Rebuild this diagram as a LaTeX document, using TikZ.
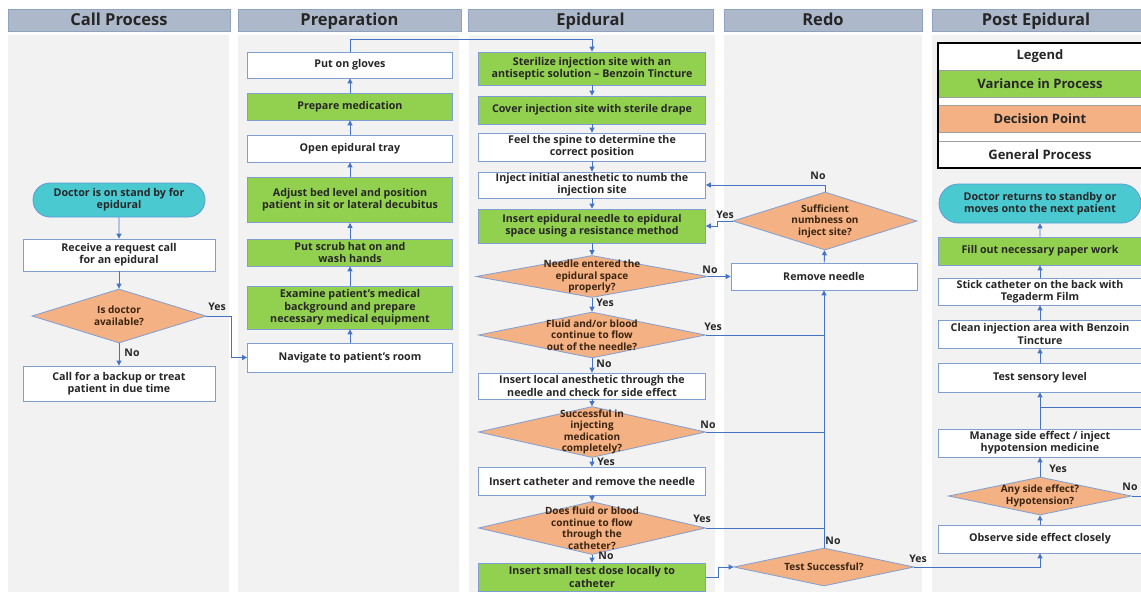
\documentclass[tikz,border=0pt]{standalone}
\usepackage{fontspec}
\setmainfont{Open Sans}
\usetikzlibrary{shapes.geometric,shapes.misc,arrows.meta}
\definecolor{headfill}{HTML}{ADB9CA}
\definecolor{headdraw}{HTML}{8FA3BF}
\definecolor{lanefill}{HTML}{F2F2F2}
\definecolor{bordc}{HTML}{7F9FD3}
\definecolor{arrc}{HTML}{4472C4}
\definecolor{vgreen}{HTML}{92D050}
\definecolor{dor}{HTML}{F4B183}
\definecolor{cyanf}{HTML}{4BC9D1}
\definecolor{cyand}{HTML}{5B9BD5}
\definecolor{txt}{HTML}{262626}
\definecolor{dtxt}{HTML}{3A2410}
\definecolor{sepc}{HTML}{A0A0A0}
\begin{document}
\begin{tikzpicture}[x=1pt,y=-1pt,
  lanehead/.style={draw=headdraw,fill=headfill,line width=0.8pt},
  lanebody/.style={fill=lanefill,draw=none},
  headtxt/.style={font=\bfseries\fontsize{16.5}{18}\selectfont,text=txt,inner sep=0pt,anchor=base},
  gbox/.style={draw=bordc,fill=white,line width=0.8pt,align=center,text=txt,
    font=\bfseries\fontsize{10.7}{12.3}\selectfont,inner sep=1pt},
  vbox/.style={gbox,fill=vgreen,text=black!85},
  tbox/.style={rounded rectangle,draw=cyand,fill=cyanf,line width=0.8pt,align=center,text=black!85,
    font=\bfseries\fontsize{10.7}{12.3}\selectfont,inner sep=1pt},
  dbox/.style={diamond,draw=bordc,fill=dor,line width=0.8pt,inner sep=0pt},
  dlab/.style={align=center,text=dtxt,font=\bfseries\fontsize{10}{11.5}\selectfont},
  wC/.style={minimum width=192pt},
  wP/.style={minimum width=205pt},
  wE/.style={minimum width=227pt},
  wR/.style={minimum width=186pt},
  wQ/.style={minimum width=204pt},
  arr/.style={draw=arrc,line width=0.9pt,-{Triangle[length=5pt,width=5pt]}},
  plain/.style={draw=arrc,line width=0.9pt},
  lbl/.style={font=\bfseries\fontsize{10.5}{12}\selectfont,text=txt,inner sep=0pt},
  legtxt/.style={font=\bfseries\fontsize{13}{15}\selectfont,text=txt}
]
\useasboundingbox (0,0) rectangle (1141,592);
% lanes
\fill[lanebody] (8,35) rectangle (229,592);
\fill[lanebody] (238,35) rectangle (459,592);
\fill[lanebody] (469,35) rectangle (715,592);
\fill[lanebody] (724,35) rectangle (922,592);
\fill[lanebody] (932,35) rectangle (1145,592);
\draw[lanehead] (8,9) rectangle (230,31);
\draw[lanehead] (238,9) rectangle (461,31);
\draw[lanehead] (468,9) rectangle (713,31);
\draw[lanehead] (724,9) rectangle (922,31);
\draw[lanehead] (932,9) rectangle (1146,31);
\node[headtxt] (h1) at (119,25.5) {Call Process};
\node[headtxt] (h2) at (349.5,25.5) {Preparation};
\node[headtxt] (h3) at (590.5,25.5) {Epidural};
\node[headtxt] (h4) at (823,25.5) {Redo};
\node[headtxt] (h5) at (1036,25.5) {Post Epidural};

% Call process
\node[tbox,minimum width=174pt,minimum height=34pt] (t1) at (119,200) {Doctor is on stand by for\\epidural};
\node[gbox,wC,minimum height=32pt] (c1) at (119,255) {Receive a request call\\for an epidural};
\node[dbox,minimum width=174pt,minimum height=54pt,label={[dlab]center:{Is doctor\\available?}}] (c2) at (119,316) {};
\node[gbox,wC,minimum height=35pt] (c3) at (119,383.5) {Call for a backup or treat\\patient in due time};

% Preparation
\node[gbox,wP,minimum height=26pt] (p7) at (350,65) {Put on gloves};
\node[vbox,wP,minimum height=27pt] (p6) at (350,106.5) {Prepare medication};
\node[gbox,wP,minimum height=27pt] (p5) at (350,148.5) {Open epidural tray};
\node[vbox,wP,minimum height=45pt] (p4) at (350,200) {Adjust bed level and position\\patient in sit or lateral decubitus};
\node[vbox,wP,minimum height=27pt] (p3) at (350,252.5) {Put scrub hat on and\\wash hands};
\node[vbox,wP,minimum height=43pt] (p2) at (350,307.5) {Examine patient’s medical\\background and prepare\\necessary medical equipment};
\node[gbox,wP,minimum height=29pt] (p1) at (350,357.5) {Navigate to patient’s room};

% Epidural
\node[vbox,wE,minimum height=33pt] (e1) at (592,68.5) {Sterilize injection site with an\\antiseptic solution -- Benzoin Tincture};
\node[vbox,wE,minimum height=28pt] (e2) at (592,110) {Cover injection site with sterile drape};
\node[gbox,wE,minimum height=28pt] (e3) at (592,147) {Feel the spine to determine the\\correct position};
\node[gbox,wE,minimum height=26pt] (e4) at (592,185) {Inject initial anesthetic to numb the\\injection site};
\node[vbox,wE,minimum height=34pt] (e5) at (592,226) {Insert epidural needle to epidural\\space using a resistance method};
\node[dbox,minimum width=232pt,minimum height=42pt,label={[dlab]center:{Needle entered the\\epidural space\\properly?}}] (d1) at (592,276.5) {};
\node[dbox,minimum width=227pt,minimum height=46pt,label={[dlab]center:{Fluid and/or blood\\continue to flow\\out of the needle?}}] (d2) at (592,335) {};
\node[gbox,wE,minimum height=26pt] (e6) at (592,386) {Insert local anesthetic through the\\needle and check for side effect};
\node[dbox,minimum width=227pt,minimum height=51pt,label={[dlab]center:{Successful in\\injecting\\medication\\completely?}}] (d3) at (592,432) {};
\node[gbox,wE,minimum height=28pt] (e7) at (592,481) {Insert catheter and remove the needle};
\node[dbox,minimum width=227pt,minimum height=53pt,label={[dlab]center:{Does fluid or blood\\continue to flow\\through the\\catheter?}}] (d4) at (592,528) {};
\node[vbox,wE,minimum height=28pt] (e8) at (592,577) {Insert small test dose locally to\\catheter};

% Redo
\node[dbox,minimum width=184pt,minimum height=58pt,label={[dlab]center:{Sufficient\\numbness on\\inject site?}}] (r1) at (825,221) {};
\node[gbox,wR,minimum height=27pt] (r2) at (824,276.5) {Remove needle};
\node[dbox,minimum width=180pt,minimum height=38pt,label={[dlab]center:{Test Successful?}}] (r3) at (824,567) {};

% Post epidural: legend
\fill[white] (938,43) rectangle (1143,168);
\fill[vgreen] (938,70) rectangle (1143,97);
\fill[dor] (938,105) rectangle (1143,132);
\draw[sepc,line width=0.8pt] (938,70) -- (1143,70) (938,97) -- (1143,97) (938,105) -- (1143,105) (938,132) -- (1143,132) (938,141) -- (1143,141);
\draw[black,line width=2pt] (938,43) rectangle (1143,168);
\node[legtxt] (lg0) at (1040,56.5) {Legend};
\node[legtxt] (lg1) at (1040,83.5) {Variance in Process};
\node[legtxt] (lg2) at (1040,118.5) {Decision Point};
\node[legtxt] (lg3) at (1040,154.5) {General Process};

% Post epidural flow
\node[tbox,wQ,minimum height=39pt] (q8) at (1040,203.5) {Doctor returns to standby or\\moves onto the next patient};
\node[vbox,wQ,minimum height=28pt] (q7) at (1040,251) {Fill out necessary paper work};
\node[gbox,wQ,minimum height=27pt] (q6) at (1040,291.5) {Stick catheter on the back with\\Tegaderm Film};
\node[gbox,wQ,minimum height=28pt] (q5) at (1040,334) {Clean injection area with Benzoin\\Tincture};
\node[gbox,wQ,minimum height=29pt] (q4) at (1040,377.5) {Test sensory level};
\node[gbox,wQ,minimum height=28pt] (q3) at (1040,443) {Manage side effect / inject\\hypotension medicine};
\node[dbox,minimum width=183pt,minimum height=38pt,label={[dlab]center:{Any side effect?\\Hypotension?}}] (q2) at (1040,496) {};
\node[gbox,wQ,minimum height=28pt] (q1) at (1040,539) {Observe side effect closely};
\coordinate (qj) at (1040,407);

% connectors: call
\draw[arr] (t1) -- (c1);
\draw[arr] (c1) -- (c2);
\draw[arr] (c2) -- (c3);
\draw[arr] (c2.east) -- ++(25,0) |- (p1.west);
% preparation
\draw[arr] (p1) -- (p2);
\draw[arr] (p2) -- (p3);
\draw[arr] (p3) -- (p4);
\draw[arr] (p4) -- (p5);
\draw[arr] (p5) -- (p6);
\draw[arr] (p6) -- (p7);
\draw[arr] (p7.north) -- ++(0,-12) -| (e1.north);
% epidural
\draw[arr] (e1) -- (e2);
\draw[arr] (e2) -- (e3);
\draw[arr] (e3) -- (e4);
\draw[arr] (e4) -- (e5);
\draw[arr] (e5) -- (d1);
\draw[arr] (d1) -- (d2);
\draw[arr] (d2) -- (e6);
\draw[arr] (e6) -- (d3);
\draw[arr] (d3) -- (e7);
\draw[arr] (e7) -- (d4);
\draw[arr] (d4) -- (e8);
% redo
\draw[arr] (d1.east) -- (r2.west);
\draw[arr] (r2) -- (r1);
\draw[arr] (r1.north) |- (e4.east);
\draw[arr] (r1.west) -- ++(-15,0) |- (e5.east);
\draw[plain] (d2.east) -- (d2.east -| r2.south);
\draw[plain] (d3.east) -- (d3.east -| r2.south);
\draw[plain] (d4.east) -- (d4.east -| r2.south);
\draw[arr] (r3.north) -- (r2.south);
\draw[arr] (e8.east) -- ++(13,0) |- (r3.west);
\draw[arr] (r3.east) -| (q1.south);
% post
\draw[arr] (q1) -- (q2);
\draw[arr] (q2) -- (q3);
\draw[arr] (q3) -- (q4);
\draw[arr] (q4) -- (q5);
\draw[arr] (q5) -- (q6);
\draw[arr] (q6) -- (q7);
\draw[arr] (q7) -- (q8);
\draw[plain] (q2.east) -- ++(25,0) |- (qj);

% labels
\node[lbl] (l1) at (217,307) {Yes};
\node[lbl] (l2) at (132,353) {No};
\node[lbl] (l3) at (710,270) {No};
\node[lbl] (l4) at (605,303) {Yes};
\node[lbl] (l5) at (713,327) {Yes};
\node[lbl] (l6) at (604,364) {No};
\node[lbl] (l7) at (708,425) {No};
\node[lbl] (l8) at (606,462) {Yes};
\node[lbl] (l9) at (702,519) {Yes};
\node[lbl] (l10) at (606,556) {No};
\node[lbl] (l11) at (818,176) {No};
\node[lbl] (l12) at (725,215) {Yes};
\node[lbl] (l13) at (833,541) {No};
\node[lbl] (l14) at (918,559) {Yes};
\node[lbl] (l15) at (1058,469) {Yes};
\node[lbl] (l16) at (1130,487) {No};
\end{tikzpicture}
\end{document}
